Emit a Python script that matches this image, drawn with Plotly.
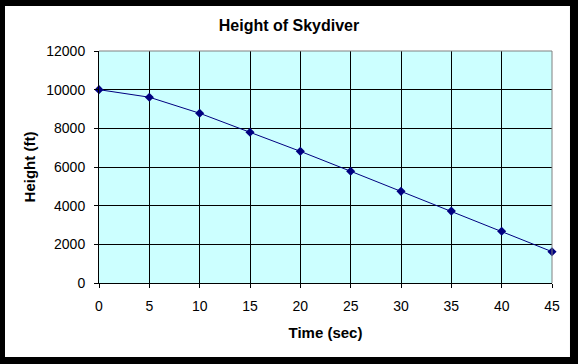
import plotly.graph_objects as go

time_sec = [0, 5, 10, 15, 20, 25, 30, 35, 40, 45]
height_ft = [10000, 9610, 8780, 7800, 6810, 5780, 4740, 3720, 2680, 1620]
x_ticks = [0, 5, 10, 15, 20, 25, 30, 35, 40, 45]
y_ticks = [0, 2000, 4000, 6000, 8000, 10000, 12000]
y_tick_labels = ["0", "2000", "4000", "6000", "8000", "10000", "12000"]

FONT = "Liberation Sans, Arial, sans-serif"

fig = go.Figure(
    go.Scatter(
        x=time_sec,
        y=height_ft,
        mode="lines+markers",
        line=dict(color="#000080", width=1),
        marker=dict(symbol="diamond", size=7, color="#000080"),
        cliponaxis=False,
        showlegend=False,
        hoverinfo="skip",
    )
)

fig.update_layout(
    width=578,
    height=364,
    margin=dict(l=99, r=26, t=51, b=81, autoexpand=False),
    paper_bgcolor="black",
    plot_bgcolor="#CCFFFF",
    font=dict(family=FONT, color="black", size=13),
    title=dict(
        text="<b>Height of Skydiver</b>",
        x=0.5,
        xref="container",
        xanchor="center",
        y=1 - 25 / 364,
        yref="container",
        yanchor="middle",
        font=dict(family=FONT, size=16, color="black"),
    ),
    shapes=[
        dict(type="rect", xref="paper", yref="paper", x0=-0.2075, x1=1.0397,
             y0=-0.319, y1=1.194, fillcolor="white", line=dict(width=0), layer="below"),
        dict(type="rect", xref="paper", yref="paper", x0=0, x1=1, y0=0, y1=1,
             fillcolor="#CCFFFF", line=dict(width=0), layer="below"),
        dict(type="line", xref="paper", yref="paper", x0=0, x1=1, y0=1, y1=1,
             line=dict(color="#808080", width=1), layer="above"),
        dict(type="line", xref="paper", yref="paper", x0=1, x1=1, y0=0, y1=1,
             line=dict(color="#808080", width=1), layer="above"),
    ],
)

fig.update_xaxes(
    range=[0, 45],
    tickvals=x_ticks,
    showgrid=True,
    gridcolor="black",
    gridwidth=1,
    showline=True,
    linecolor="black",
    linewidth=1,
    zeroline=False,
    ticks="outside",
    ticklen=4,
    tickcolor="black",
    tickfont=dict(family=FONT, size=14, color="black"),
    ticklabelstandoff=6,
    automargin=False,
    title=dict(text="<b>Time (sec)</b>", font=dict(family=FONT, size=15, color="black"), standoff=14),
)
fig.update_yaxes(
    range=[0, 12000],
    tickvals=y_ticks,
    ticktext=y_tick_labels,
    showgrid=True,
    gridcolor="black",
    gridwidth=1,
    showline=True,
    linecolor="black",
    linewidth=1,
    zeroline=False,
    ticks="outside",
    ticklen=4,
    tickcolor="black",
    tickfont=dict(family=FONT, size=14, color="black"),
    ticklabelstandoff=6,
    automargin=False,
    title=dict(text="<b>Height (ft)</b>", font=dict(family=FONT, size=15, color="black"), standoff=7),
)

fig.write_html(
    "out.html",
    config={"displayModeBar": False},
    post_script="document.body.style.margin='0';",
)
